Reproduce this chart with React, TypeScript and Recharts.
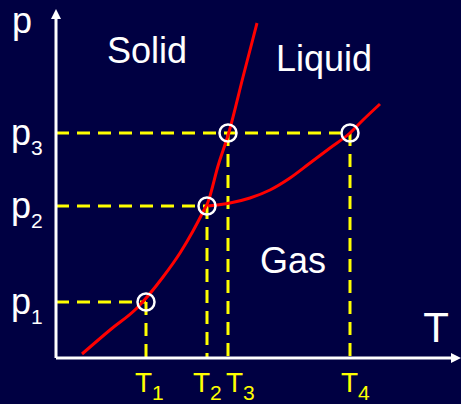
import React from 'react';
import { ComposedChart, Line, XAxis, YAxis, ReferenceLine, ReferenceDot } from 'recharts';

// Axis tick positions (arbitrary units) and their subscript labels
const T_TICKS = [90, 151, 172, 294];
const T_TICK_LABELS = ['1', '2', '3', '4'];
const P_TICKS = [56, 152, 225];
const P_TICK_LABELS = ['1', '2', '3'];

// Sublimation + melting curve (solid boundary)
const solidCurveT = [26, 54, 81, 107, 124, 137, 147, 152, 162, 173, 187, 201];
const solidCurveP = [4, 28, 50, 81, 105, 127, 146, 156, 192, 226, 281, 335];

// Vaporization curve (liquid/gas boundary)
const vaporCurveT = [152, 174, 194, 214, 234, 254, 274, 294, 307, 324];
const vaporCurveP = [152, 155, 160, 168, 180, 195, 210, 225, 238, 254];

// Marked states (circles)
const markT = [T_TICKS[0], T_TICKS[1], T_TICKS[2], T_TICKS[3]];
const markP = [P_TICKS[0], P_TICKS[1], P_TICKS[2], P_TICKS[2]];

// Region names and their anchor points
const regionNames = ['Solid', 'Liquid', 'Gas'];
const regionT = [91, 268, 237];
const regionP = [295, 287, 85];

const T_DOMAIN = [0, 395];
const P_DOMAIN = [0, 339];

const solidData = solidCurveT.map((T, i) => ({ T, p: solidCurveP[i] }));
const vaporData = vaporCurveT.map((T, i) => ({ T, p: vaporCurveP[i] }));

const FONT = 'Liberation Sans, Arial, sans-serif';
const BG = '#000042';
const YELLOW = '#ffff00';
const TICK_DX = [-11, -14, -2, -9];

const TTick = (props: any) => {
  const { x, y, payload } = props;
  const i = T_TICKS.indexOf(payload.value);
  return (
    <text x={x + TICK_DX[i]} y={y + 34} fill={YELLOW} fontSize={28} fontFamily={FONT} textAnchor="start">
      T<tspan fontSize={21} dy={8}>{T_TICK_LABELS[i]}</tspan>
    </text>
  );
};

const PTick = (props: any) => {
  const { x, y, payload } = props;
  const i = P_TICKS.indexOf(payload.value);
  return (
    <text x={x - 45} y={y + 12} fill="#ffffff" fontSize={36} fontFamily={FONT} textAnchor="start">
      p<tspan fontSize={21} dy={10}>{P_TICK_LABELS[i]}</tspan>
    </text>
  );
};

export default function App() {
  const dash = '13 8';
  return (
    <div style={{ position: 'absolute', left: 0, top: 0, width: 461, height: 404, background: BG }}>
      <svg width={0} height={0} style={{ position: 'absolute' }}>
        <defs>
          <marker id="arrowHead" viewBox="0 0 10 10" refX={0} refY={5} markerWidth={10} markerHeight={10}
            markerUnits="userSpaceOnUse" orient="auto-start-reverse">
            <path d="M0,0 L10,5 L0,10 z" fill="#ffffff" />
          </marker>
        </defs>
      </svg>
      <ComposedChart width={461} height={404} margin={{ top: 19, right: 10, left: 0, bottom: 0 }}>
        <XAxis
          dataKey="T"
          type="number"
          domain={T_DOMAIN}
          allowDataOverflow
          ticks={T_TICKS}
          interval={0}
          tickLine={false}
          tickSize={0}
          tickMargin={0}
          height={46}
          axisLine={{ stroke: '#ffffff', strokeWidth: 3, markerEnd: 'url(#arrowHead)' }}
          tick={(p: any) => <TTick {...p} />}
          label={{
            content: (lp: any) => {
              const vb = lp.viewBox;
              return (
                <text x={vb.x + vb.width - 15} y={vb.y - 16} fill="#ffffff" fontSize={42} fontFamily={FONT} textAnchor="middle">
                  T
                </text>
              );
            },
          }}
        />
        <YAxis
          type="number"
          domain={P_DOMAIN}
          allowDataOverflow
          ticks={P_TICKS}
          interval={0}
          tickLine={false}
          tickSize={0}
          tickMargin={0}
          width={56}
          axisLine={{ stroke: '#ffffff', strokeWidth: 3, markerStart: 'url(#arrowHead)' }}
          tick={(p: any) => <PTick {...p} />}
          label={{
            content: (lp: any) => {
              const vb = lp.viewBox;
              return (
                <text x={vb.x + 12} y={vb.y + 14} fill="#ffffff" fontSize={36} fontFamily={FONT} textAnchor="start">
                  p
                </text>
              );
            },
          }}
        />
        {/* horizontal dashed guides */}
        <ReferenceLine segment={[{ x: 0, y: P_TICKS[0] }, { x: T_TICKS[0], y: P_TICKS[0] }]} stroke={YELLOW} strokeWidth={3} strokeDasharray={dash} />
        <ReferenceLine segment={[{ x: 0, y: P_TICKS[1] }, { x: T_TICKS[1], y: P_TICKS[1] }]} stroke={YELLOW} strokeWidth={3} strokeDasharray={dash} />
        <ReferenceLine segment={[{ x: 0, y: P_TICKS[2] }, { x: T_TICKS[3], y: P_TICKS[2] }]} stroke={YELLOW} strokeWidth={3} strokeDasharray={dash} />
        {/* vertical dashed guides */}
        {markT.map((t, i) => (
          <ReferenceLine key={'v' + i} segment={[{ x: t, y: markP[i] }, { x: t, y: 0 }]} stroke={YELLOW} strokeWidth={3} strokeDasharray={dash} />
        ))}
        <Line data={solidData} dataKey="p" type="monotone" stroke="#ff0000" strokeWidth={3} dot={false} isAnimationActive={false} />
        <Line data={vaporData} dataKey="p" type="monotone" stroke="#ff0000" strokeWidth={3} dot={false} isAnimationActive={false} />
        {markT.map((t, i) => (
          <ReferenceDot key={'c' + i} x={t} y={markP[i]} r={8.5} fill="none" stroke="#ffffff" strokeWidth={2.5} />
        ))}
        {regionNames.map((name, i) => (
          <ReferenceDot
            key={name}
            x={regionT[i]}
            y={regionP[i]}
            r={1}
            shape={(sp: any) => (
              <text x={sp.cx} y={sp.cy} fill="#ffffff" fontSize={36} fontFamily={FONT} textAnchor="middle">
                {name}
              </text>
            )}
          />
        ))}
      </ComposedChart>
    </div>
  );
}
